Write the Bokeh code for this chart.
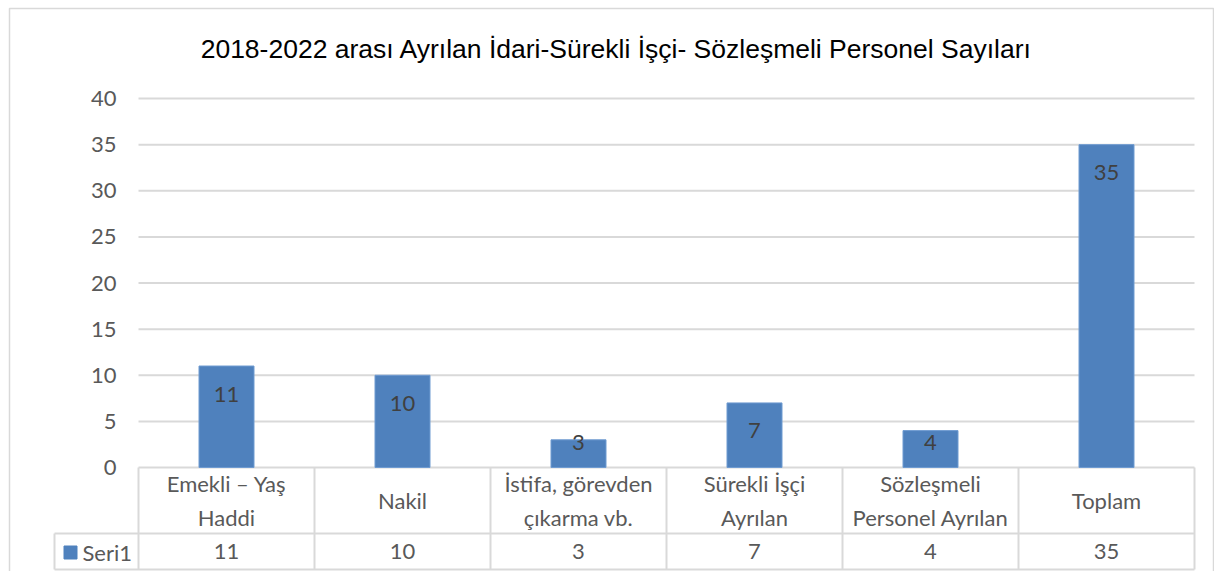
from bokeh.plotting import figure
from bokeh.models import Range1d, LinearAxis, FixedTicker, ColumnDataSource
from bokeh.core.properties import value
from bokeh.embed import file_html
from bokeh.resources import INLINE

# ---------------- data ----------------
title_text = "2018-2022 arası Ayrılan İdari-Sürekli İşçi- Sözleşmeli Personel Sayıları"
categories = ["Emekli – Yaş\nHaddi", "Nakil", "İstifa, görevden\nçıkarma vb.",
              "Sürekli İşçi\nAyrılan", "Sözleşmeli\nPersonel Ayrılan", "Toplam"]
values = [11, 10, 3, 7, 4, 35]
series_name = "Seri1"
y_ticks = [0, 5, 10, 15, 20, 25, 30, 35, 40]

# ---------------- layout (pixels, relative to figure) ----------------
W, H = 1214, 571
PL, PR, PT, PB = 138, 1194, 98, 467      # plot area
TABLE_MID, TABLE_BOT, TABLE_LEFT = 533, 569, 54
n = len(categories)
sx = (PR - PL) / n
sy = (PB - PT) / (y_ticks[-1] - y_ticks[0])

def px_x(px):
    return (px - PL) / sx

def px_y(py):
    return (PB - py) / sy

BAR = "#4F81BD"
GRID = "#d9d9d9"
GRAY = "#595959"
DARK = "#404040"
FONT = "Lato"
FS = "22px"

p = figure(width=W, height=H, output_backend="svg", toolbar_location=None,
           x_range=Range1d(px_x(0), px_x(W)), y_range=Range1d(px_y(H), px_y(0)),
           x_axis_type=None, y_axis_type=None, min_border=0)
p.xgrid.visible = False
p.ygrid.visible = False
p.outline_line_color = None
p.background_fill_color = "white"
p.border_fill_color = "white"

# chart-area border
p.quad(left=[px_x(9)], right=[px_x(W - 1)], top=[px_y(8)], bottom=[px_y(H + 20)],
       fill_color=None, line_color=GRID, line_width=1.5)

# grid lines at the y ticks
p.segment(x0=[0] * len(y_ticks), x1=[n] * len(y_ticks), y0=y_ticks, y1=y_ticks,
          line_color=GRID, line_width=2)

# table lines
y_mid, y_bot, x_left = px_y(TABLE_MID), px_y(TABLE_BOT), px_x(TABLE_LEFT)
p.segment(x0=list(range(n + 1)), x1=list(range(n + 1)),
          y0=[0] * (n + 1), y1=[y_bot] * (n + 1), line_color=GRID, line_width=2)
p.segment(x0=[x_left, x_left, x_left], x1=[n, n, x_left],
          y0=[y_mid, y_bot, y_mid], y1=[y_mid, y_bot, y_bot],
          line_color=GRID, line_width=2)

# bars
xc = [i + 0.5 for i in range(n)]
src = ColumnDataSource(dict(x=xc, top=values, cat=categories,
                            lbl=[str(v) for v in values],
                            ly=[max(v - 28 / sy, px_y(442)) for v in values]))
p.vbar(x="x", top="top", bottom=0, width=55 / sx, source=src,
       fill_color=BAR, line_color="#6f9bd1", line_width=1)

# data labels
p.text(x="x", y="ly", text="lbl", source=src, text_align="center",
       text_baseline="middle", text_font=value(FONT), text_font_size=FS,
       text_color=DARK)

# category header row
p.text(x="x", y=px_y((PB + TABLE_MID) / 2), text="cat", source=src,
       text_align="center", text_baseline="middle", text_font=value(FONT),
       text_font_size=FS, text_color=GRAY, text_line_height=1.25)

# values row
p.text(x="x", y=px_y((TABLE_MID + TABLE_BOT) / 2), text="lbl", source=src,
       text_align="center", text_baseline="middle", text_font=value(FONT),
       text_font_size=FS, text_color=GRAY)

# legend key
p.scatter(x=[px_x(70)], y=[px_y(552)], marker="square", size=13,
          fill_color=BAR, line_color=BAR)
p.text(x=[px_x(82)], y=[px_y(552)], text=[series_name], text_align="left",
       text_baseline="middle", text_font=value(FONT), text_font_size=FS,
       text_color=GRAY)

# title
p.text(x=[px_x(616)], y=[px_y(48)], text=[title_text], text_align="center",
       text_baseline="middle", text_font=value("Liberation Sans"),
       text_font_size="26.5px", text_color="black")

# y axis
yaxis = LinearAxis(fixed_location=0, ticker=FixedTicker(ticks=y_ticks, minor_ticks=[]),
                   axis_line_color=None, major_tick_line_color=None,
                   minor_tick_line_color=None, major_tick_out=0, major_tick_in=0,
                   major_label_standoff=22, major_label_text_font=FONT,
                   major_label_text_font_size=FS, major_label_text_color=GRAY)
p.add_layout(yaxis, "left")

open("out.html", "w").write(file_html(p, INLINE))
